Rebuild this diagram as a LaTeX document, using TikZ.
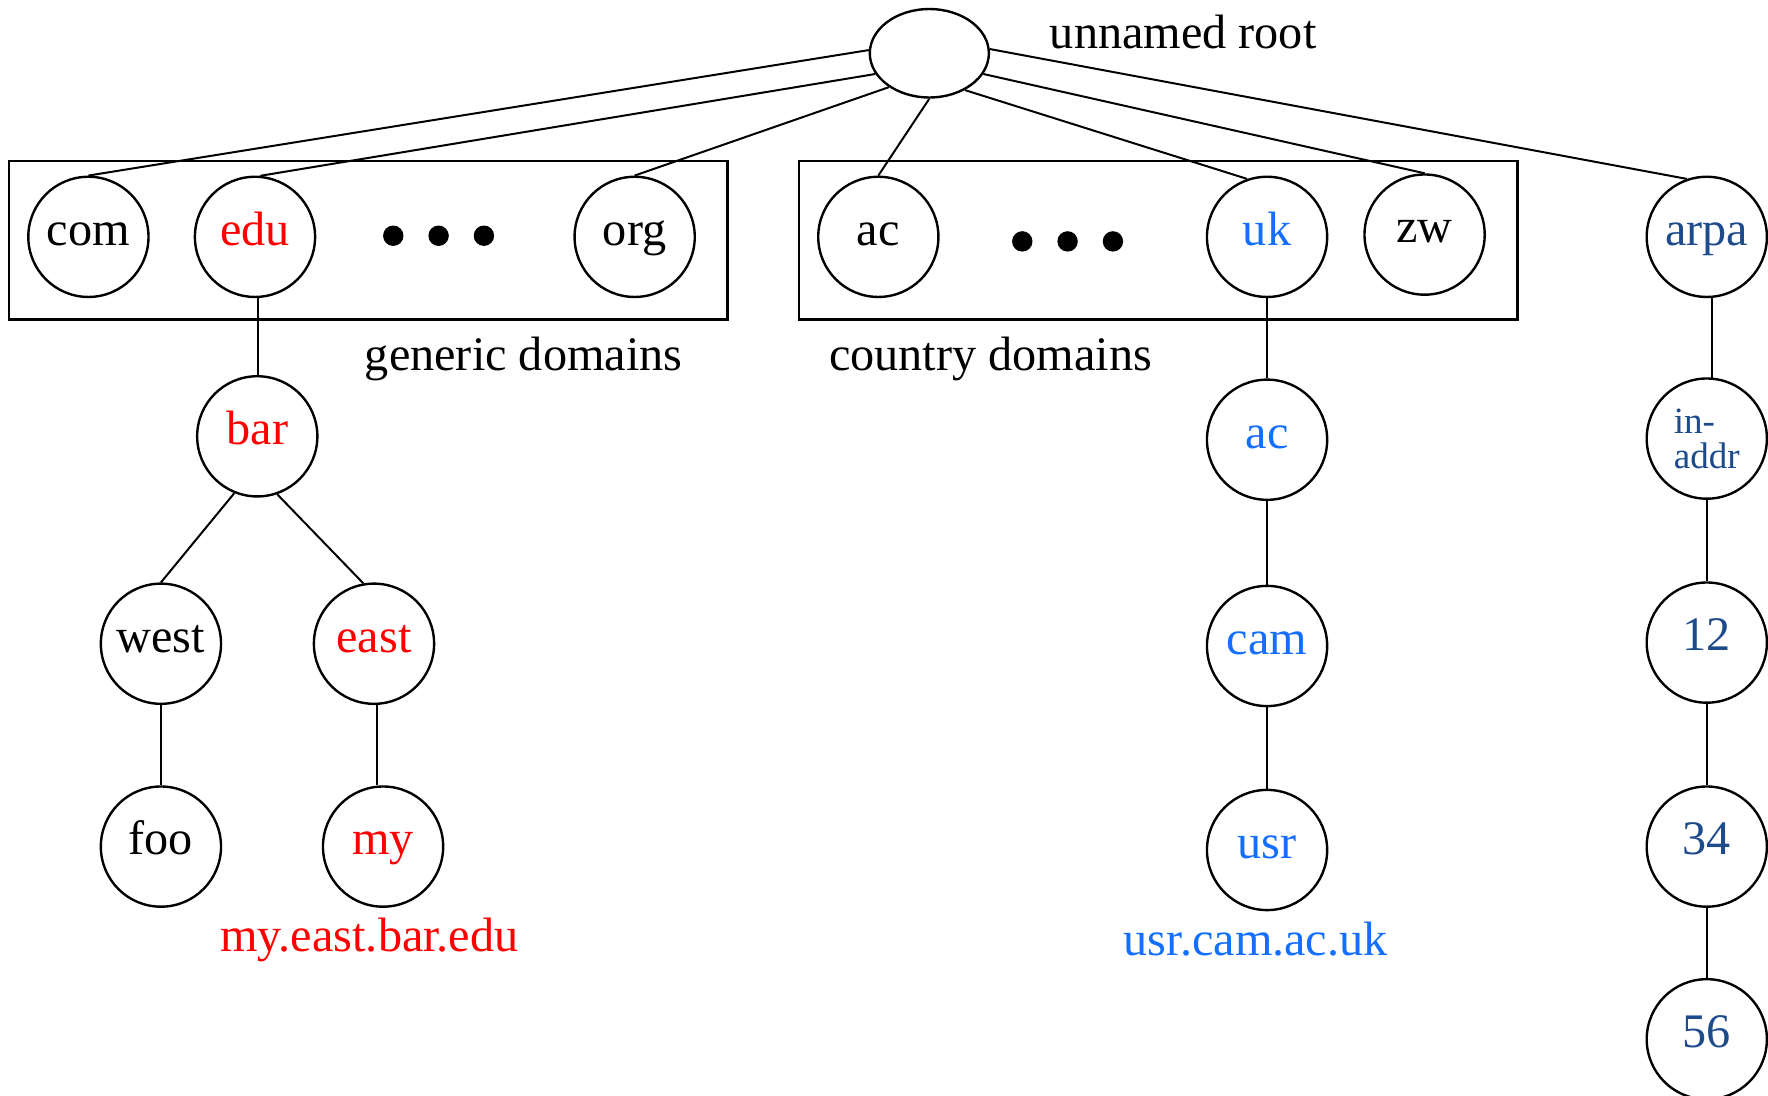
\documentclass[tikz,border=0pt]{standalone}
\usepackage{fontspec}
\setmainfont{Liberation Serif}
\usetikzlibrary{shapes.geometric}
\definecolor{myred}{RGB}{255,0,0}
\definecolor{ukblue}{RGB}{20,110,255}
\definecolor{arpablue}{RGB}{30,75,140}
\begin{document}
\begin{tikzpicture}[x=0.01cm,y=-0.01cm,
  dom/.style={circle,draw,line width=0.6pt,minimum size=1.06cm,inner sep=0pt,
    font=\fontsize{12.1}{14}\selectfont,text height=0.66em,text depth=0.24em},
  rootnode/.style={ellipse,draw,line width=0.6pt,minimum width=1.05cm,minimum height=0.78cm},
  lbl/.style={anchor=base,inner sep=0pt,font=\fontsize{12.1}{14}\selectfont},
  dot/.style={circle,fill,inner sep=0pt,minimum size=0.18cm},
  conn/.style={line width=0.5pt},
  boxline/.style={line width=0.6pt}]
\useasboundingbox (0,0) rectangle (1560,967);

% root
\node[rootnode] (root) at (820,47) {};
\node[lbl] (rootlbl) at (1044,43) {unnamed root};

% boxes
\draw[boxline] (8,142) rectangle (642,282);
\draw[boxline] (705,142) rectangle (1339,282);

% generic domains
\node[dom] (com) at (78,209) {com};
\node[dom,text=myred] (edu) at (225,209) {edu};
\node[dot] (g1) at (347,208) {};
\node[dot] (g2) at (387,208) {};
\node[dot] (g3) at (427,208) {};
\node[dom] (org) at (560,209) {org};
\node[lbl] (glbl) at (462,327) {generic domains};

% country domains
\node[dom] (ac) at (775,209) {ac};
\node[dot] (c1) at (902,213) {};
\node[dot] (c2) at (942,213) {};
\node[dot] (c3) at (982,213) {};
\node[dom,text=ukblue] (uk) at (1118,209) {uk};
\node[dom] (zw) at (1257,207) {zw};
\node[lbl] (clbl) at (874,327) {country domains};

% arpa
\node[dom,text=arpablue] (arpa) at (1506,209) {arpa};

% edu subtree
\node[dom,text=myred] (bar) at (227,385) {bar};
\node[dom] (west) at (142,568) {west};
\node[dom,text=myred] (east) at (330,568) {east};
\node[dom] (foo) at (142,747) {foo};
\node[dom,text=myred] (my) at (338,747) {my};
\node[lbl,text=myred] (mylbl) at (326,840) {my.east.bar.edu};

% uk subtree
\node[dom,text=ukblue] (ac2) at (1118,388) {ac};
\node[dom,text=ukblue] (cam) at (1118,570) {cam};
\node[dom,text=ukblue] (usr) at (1118,750) {usr};
\node[lbl,text=ukblue] (usrlbl) at (1108,843) {usr.cam.ac.uk};

% arpa subtree
\node[dom,text=arpablue,align=left,font=\fontsize{9.3}{8.8}\selectfont,text height=,text depth=] (inaddr) at (1506,387) {in-\\addr};
\node[dom,text=arpablue] (n12) at (1506,567) {12};
\node[dom,text=arpablue] (n34) at (1506,747) {34};
\node[dom,text=arpablue] (n56) at (1506,917) {56};

% connectors from root
\draw[conn] (root.177) -- (com.north);
\draw[conn] (root.201) -- (edu.85);
\draw[conn] (root.220) -- (org.north);
\draw[conn] (root.270) -- (ac.north);
\draw[conn] (root.314) -- (uk.109);
\draw[conn] (root.339) -- (zw.north);
\draw[conn] (root.4) -- (arpa.109);

% subtrees
\draw[conn] (edu.-87) -- (edu.-87 |- bar.north);
\draw[conn] (bar.248) -- (west.north);
\draw[conn] (bar.289) -- (east.100);
\draw[conn] (west.south) -- (foo.north);
\draw[conn] (east.-87) -- (east.-87 |- my.north);
\draw[conn] (uk.south) -- (ac2.north);
\draw[conn] (ac2.south) -- (cam.north);
\draw[conn] (cam.south) -- (usr.north);
\draw[conn] (arpa.-85) -- (inaddr.85);
\draw[conn] (inaddr.south) -- (n12.north);
\draw[conn] (n12.south) -- (n34.north);
\draw[conn] (n34.south) -- (n56.north);
\end{tikzpicture}
\end{document}
